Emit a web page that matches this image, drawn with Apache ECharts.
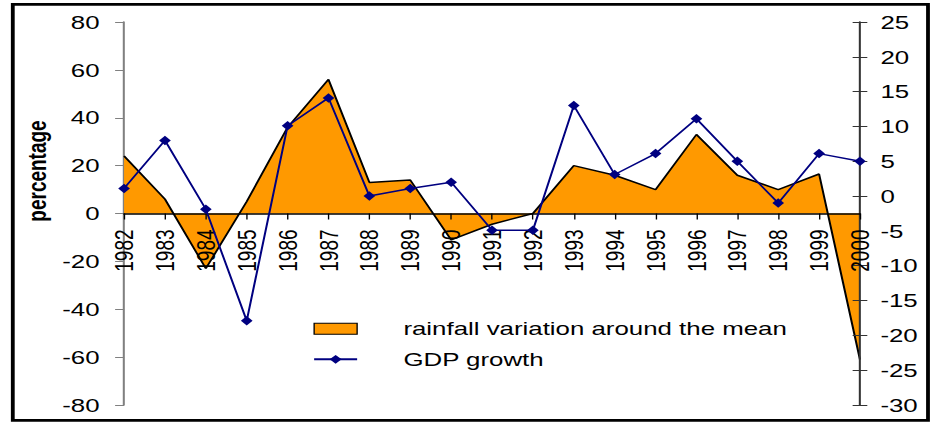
<!DOCTYPE html>
<html>
<head>
<meta charset="utf-8">
<script src="https://cdn.jsdelivr.net/npm/echarts@6/dist/echarts.min.js"></script>
<style>
  html, body { margin: 0; padding: 0; background: #fff; overflow: hidden; }
  #wrap { width: 936px; height: 423px; overflow: hidden; }
  #chart { width: 688px; height: 423px; transform: scaleX(1.3605); transform-origin: 0 0; }
</style>
</head>
<body>
<div id="wrap"><div id="chart"></div></div>
<script>
// ---- data ----
const years = ['1982','1983','1984','1985','1986','1987','1988','1989','1990','1991',
               '1992','1993','1994','1995','1996','1997','1998','1999','2000'];
const rainfallVariation = [24, 6, -23, 5, 36, 56, 13, 14, -11, -4.5,
                           0, 20, 16, 10, 33, 16, 10, 16.5, -61];
const gdpGrowth = [1.1, 8.0, -1.9, -17.9, 10.1, 14.1, 0.0, 1.1, 2.0, -4.9,
                   -4.9, 13.0, 3.1, 6.1, 11.1, 5.0, -1.0, 6.1, 5.0];
const seriesNames = ['rainfall variation around the mean', 'GDP growth'];
const leftAxisRange = { min: -80, max: 80, interval: 20 };
const rightAxisRange = { min: -30, max: 25, interval: 5 };
const yAxisTitle = 'percentage';

// ---- chart ----
const FONT = '"Liberation Sans", Arial, sans-serif';
const GRID_TOP = 22, GRID_BOTTOM = 18, CHART_H = 423;
const gridH = CHART_H - GRID_TOP - GRID_BOTTOM;
// place the category axis at the zero of the left value axis
const zeroOffset = -gridH * (0 - leftAxisRange.min) / (leftAxisRange.max - leftAxisRange.min);

const chart = echarts.init(document.getElementById('chart'), null, { renderer: 'svg' });

chart.setOption({
  animation: false,
  backgroundColor: '#ffffff',
  textStyle: { fontFamily: FONT },
  grid: { left: 91.2, right: 55.9, top: GRID_TOP, bottom: GRID_BOTTOM, containLabel: false, outerBoundsMode: 'none' },
  legend: {
    orient: 'vertical',
    left: 229.9,
    top: 318.7,
    padding: 0,
    itemWidth: 31.6,
    itemHeight: 11,
    itemGap: 10.6,
    selectedMode: false,
    textStyle: { fontFamily: FONT, fontSize: 19, color: '#000', lineHeight: 20, padding: [0, 0, 0, 29] },
    data: [
      { name: seriesNames[0], icon: 'rect',
        itemStyle: { color: '#FF9900', borderColor: '#000', borderWidth: 1 } },
      { name: seriesNames[1] }
    ]
  },
  xAxis: {
    type: 'category',
    data: years,
    boundaryGap: false,
    position: 'bottom',
    offset: zeroOffset,
    z: 2,
    axisLine: { onZero: false, lineStyle: { color: '#000', width: 1.5 } },
    axisTick: { show: true, alignWithLabel: true, length: 6, lineStyle: { color: '#000', width: 1 } },
    axisLabel: { interval: 0, rotate: 90, margin: 16, fontSize: 19, color: '#000', fontFamily: FONT },
    splitLine: { show: false }
  },
  yAxis: [
    {
      type: 'value',
      position: 'left',
      min: leftAxisRange.min, max: leftAxisRange.max, interval: leftAxisRange.interval,
      axisLine: { show: true, onZero: false, lineStyle: { color: '#808080', width: 1.5 } },
      axisTick: { show: true, inside: false, length: 6.6, lineStyle: { color: '#808080', width: 1 } },
      axisLabel: { margin: 18, fontSize: 19, color: '#000', fontFamily: FONT },
      splitLine: { show: false }
    },
    {
      type: 'value',
      position: 'right',
      offset: 0,
      z: 2,
      min: rightAxisRange.min, max: rightAxisRange.max, interval: rightAxisRange.interval,
      axisLine: { show: true, onZero: false, lineStyle: { color: '#333', width: 1.5 } },
      axisTick: { show: true, inside: false, length: 5.4, lineStyle: { color: '#333', width: 1 } },
      axisLabel: { margin: 15, fontSize: 19, color: '#000', fontFamily: FONT },
      splitLine: { show: false }
    },
    {
      type: 'value',
      position: 'right',
      offset: 0,
      z: 2,
      min: rightAxisRange.min, max: rightAxisRange.max, interval: rightAxisRange.interval,
      axisLine: { show: false, onZero: false },
      axisTick: { show: true, inside: true, length: 5.4, lineStyle: { color: '#333', width: 1 } },
      axisLabel: { show: false },
      splitLine: { show: false }
    }
  ],
  graphic: [
    {
      type: 'rect',
      silent: true,
      shape: { x: 9.4, y: 4.3, width: 672.7, height: 416 },
      style: { fill: 'none', stroke: '#000', lineWidth: 2.8 }
    },
    {
      type: 'text',
      silent: true,
      x: 27.2, y: 171,
      rotation: Math.PI / 2,
      style: {
        text: yAxisTitle,
        font: 'bold 19px "Liberation Sans", Arial, sans-serif',
        fill: '#000',
        align: 'center',
        verticalAlign: 'middle'
      }
    }
  ],
  series: [
    {
      name: seriesNames[0],
      type: 'line',
      yAxisIndex: 0,
      data: rainfallVariation,
      symbol: 'none',
      lineStyle: { color: '#000', width: 1.5 },
      itemStyle: { color: '#FF9900' },
      areaStyle: { color: '#FF9900', opacity: 1, origin: 'auto' },
      z: 1
    },
    {
      name: seriesNames[1],
      type: 'line',
      yAxisIndex: 1,
      data: gdpGrowth,
      symbol: 'diamond',
      symbolSize: [8.6, 9.5],
      showAllSymbol: true,
      lineStyle: { color: '#000080', width: 1.5 },
      itemStyle: { color: '#000080' },
      z: 3
    }
  ]
});
</script>
</body>
</html>
